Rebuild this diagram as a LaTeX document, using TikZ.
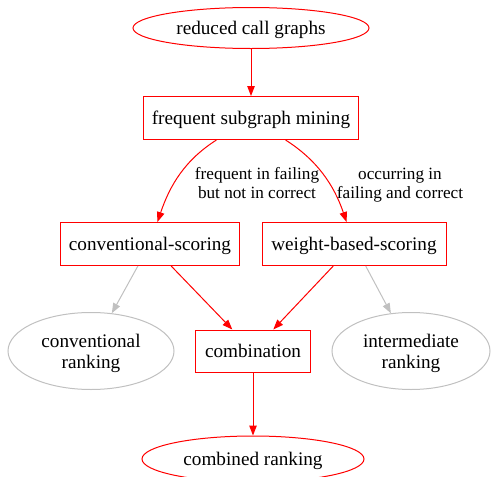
\documentclass[tikz,border=0pt]{standalone}
\usepackage{fontspec}
\setmainfont{Liberation Serif}
\usetikzlibrary{shapes.geometric,arrows.meta}
\definecolor{edgegray}{RGB}{192,192,192}
\begin{document}
\begin{tikzpicture}[x=1pt,y=-1pt,
  every node/.style={font=\fontsize{19.2}{21}\selectfont, text=black, inner sep=0pt, align=center, text depth=0pt},
  redbox/.style={draw=red, line width=1pt, rectangle},
  redell/.style={draw=red, line width=1pt, ellipse},
  grayell/.style={draw=edgegray, line width=1pt, ellipse},
  rarrow/.style={draw=red, line width=1pt, -{Triangle[length=10pt,width=7.5pt]}, color=red},
  garrow/.style={draw=edgegray, line width=1pt, -{Triangle[length=10pt,width=7.5pt]}, color=edgegray},
  elabel/.style={font=\fontsize{17.2}{19}\selectfont}
]
\useasboundingbox (0,0) rectangle (491,477);
\node[redell, minimum width=236pt, minimum height=41pt] (rcg) at (251,28) {reduced call graphs};
\node[redbox, minimum width=215pt, minimum height=43pt] (fsm) at (251,118) {frequent subgraph mining};
\node[redbox, minimum width=179pt, minimum height=43pt] (cs) at (150,244) {conventional-scoring};
\node[redbox, minimum width=184pt, minimum height=43pt] (wbs) at (354,244) {weight-based-scoring};
\node[grayell, minimum width=166pt, minimum height=77pt] (cr) at (91,351) {conventional\\ranking};
\node[redbox, minimum width=115pt, minimum height=42pt] (comb) at (253,351) {combination};
\node[grayell, minimum width=158pt, minimum height=77pt] (ir) at (411,351) {intermediate\\ranking};
\node[redell, minimum width=222pt, minimum height=46pt] (cmr) at (253,459) {combined ranking};

\draw[rarrow] (rcg) -- (fsm);
\draw[rarrow] (fsm) .. controls (185,160) and (170,185) .. (cs);
\draw[rarrow] (fsm) .. controls (317,160) and (334,185) .. (wbs);
\node[elabel] (l1) at (257,183) {frequent in failing\\but not in correct};
\node[elabel] (l2) at (400,183) {occurring in\\failing and correct};
\draw[garrow] (cs) -- (cr);
\draw[rarrow] (cs) -- (comb);
\draw[rarrow] (wbs) -- (comb);
\draw[garrow] (wbs) -- (ir);
\draw[rarrow] (comb) -- (cmr);
\end{tikzpicture}
\end{document}
